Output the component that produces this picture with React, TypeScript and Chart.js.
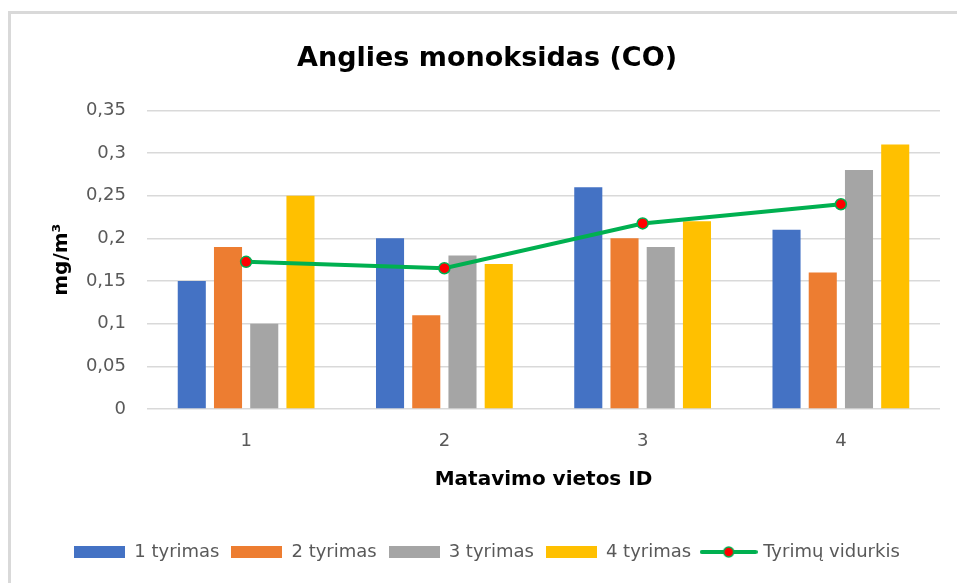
import React, { useEffect, useRef } from 'react';
import { Chart, registerables } from 'chart.js';

Chart.register(...registerables);

const categories = ['1', '2', '3', '4'];
const tyrimas1 = [0.15, 0.2, 0.26, 0.21];
const tyrimas2 = [0.19, 0.11, 0.2, 0.16];
const tyrimas3 = [0.1, 0.18, 0.19, 0.28];
const tyrimas4 = [0.25, 0.17, 0.22, 0.31];
const vidurkis = [0.1725, 0.165, 0.2175, 0.24];
const seriesNames = ['1 tyrimas', '2 tyrimas', '3 tyrimas', '4 tyrimas', 'Tyrimų vidurkis'];
const yMin = 0;
const yMax = 0.35;
const yStep = 0.05;

const titleText = 'Anglies monoksidas (CO)';
const xTitle = 'Matavimo vietos ID';
const yTitle = 'mg/m³';

const barColors = ['#4472C4', '#ED7D31', '#A5A5A5', '#FFC000'];
const lineColor = '#00B050';
const pointColor = '#FF0000';
const FONT = "'DejaVu Sans', sans-serif";

function makeBoxImage(color: string): HTMLCanvasElement {
  const c = document.createElement('canvas');
  c.width = 51;
  c.height = 12;
  const ctx = c.getContext('2d')!;
  ctx.fillStyle = color;
  ctx.fillRect(0, 0, 51, 12);
  return c;
}

function makeLineImage(): HTMLCanvasElement {
  const c = document.createElement('canvas');
  c.width = 58;
  c.height = 14;
  const ctx = c.getContext('2d')!;
  ctx.strokeStyle = lineColor;
  ctx.lineWidth = 4;
  ctx.lineCap = 'round';
  ctx.beginPath();
  ctx.moveTo(2, 7);
  ctx.lineTo(56, 7);
  ctx.stroke();
  ctx.beginPath();
  ctx.arc(29, 7, 5, 0, Math.PI * 2);
  ctx.fillStyle = pointColor;
  ctx.fill();
  ctx.lineWidth = 1.5;
  ctx.strokeStyle = lineColor;
  ctx.stroke();
  return c;
}

export default function App() {
  const ref = useRef<HTMLCanvasElement | null>(null);

  useEffect(() => {
    if (!ref.current) return;
    const images = [
      makeBoxImage(barColors[0]),
      makeBoxImage(barColors[1]),
      makeBoxImage(barColors[2]),
      makeBoxImage(barColors[3]),
      makeLineImage(),
    ];
    const barSeries = [tyrimas1, tyrimas2, tyrimas3, tyrimas4];
    const datasets: any[] = barSeries.map((d, i) => ({
      type: 'bar',
      label: seriesNames[i],
      data: d,
      backgroundColor: barColors[i],
      borderWidth: 0,
      categoryPercentage: 0.731,
      barPercentage: 0.775,
      order: 1,
    }));
    datasets.push({
      type: 'line',
      label: seriesNames[4],
      data: vidurkis,
      borderColor: lineColor,
      borderWidth: 4,
      tension: 0,
      pointRadius: 5.5,
      pointBackgroundColor: pointColor,
      pointBorderColor: lineColor,
      pointBorderWidth: 1.5,
      order: -1,
    });

    const chart = new Chart(ref.current, {
      type: 'bar',
      data: { labels: categories, datasets },
      options: {
        animation: false,
        responsive: false,
        maintainAspectRatio: false,
        devicePixelRatio: 1,
        layout: { padding: { left: 34, right: 17, top: 12, bottom: 12 } },
        plugins: {
          tooltip: { enabled: false },
          title: {
            display: true,
            text: titleText,
            color: '#000000',
            font: { family: FONT, size: 27, weight: 'bold', lineHeight: 1.2 },
            padding: { top: 31, bottom: 35 },
          },
          legend: {
            display: true,
            position: 'bottom',
            labels: {
              usePointStyle: true,
              pointStyleWidth: 51,
              boxHeight: 12,
              padding: 12,
              color: '#595959',
              font: { family: FONT, size: 18 },
              generateLabels: (ch: any) =>
                ch.data.datasets.map((ds: any, i: number) => ({
                  text: ds.label,
                  pointStyle: images[i],
                  fillStyle: 'transparent',
                  strokeStyle: 'transparent',
                  lineWidth: 0,
                  hidden: false,
                  datasetIndex: i,
                  fontColor: '#595959',
                })),
            },
          },
        },
        scales: {
          x: {
            grid: { display: false, drawTicks: false },
            border: { display: false },
            ticks: {
              color: '#595959',
              font: { family: FONT, size: 18 },
              padding: 22,
            },
            title: {
              display: true,
              text: xTitle,
              color: '#000000',
              font: { family: FONT, size: 20, weight: 'bold', lineHeight: 1.2 },
              padding: { top: 0, bottom: 39 },
            },
            afterFit: (s: any) => {
              s.height = 122;
            },
          },
          y: {
            min: yMin,
            max: yMax,
            grid: { color: '#d9d9d9', lineWidth: 1.5, drawTicks: false },
            border: { display: false },
            ticks: {
              stepSize: yStep,
              color: '#595959',
              font: { family: FONT, size: 18 },
              padding: 21,
              callback: (v: any) => String(Math.round(Number(v) * 100) / 100).replace('.', ','),
            },
            title: {
              display: true,
              text: yTitle,
              color: '#000000',
              font: { family: FONT, size: 20, weight: 'bold', lineHeight: 1.2 },
              padding: { top: 16, bottom: 0 },
            },
            afterFit: (s: any) => {
              s.width = 113;
            },
          },
        },
      } as any,
    });
    return () => chart.destroy();
  }, []);

  return (
    <div style={{ position: 'fixed', left: 0, top: 0, width: 957, height: 583, background: '#ffffff', overflow: 'hidden' }}>
      <div
        style={{
          position: 'absolute',
          left: 8,
          top: 11,
          width: 949,
          height: 572,
          borderTop: '3px solid #d9d9d9',
          borderLeft: '3px solid #d9d9d9',
          boxSizing: 'border-box',
        }}
      />
      <canvas ref={ref} width={957} height={583} style={{ position: 'absolute', left: 0, top: 0 }} />
    </div>
  );
}
